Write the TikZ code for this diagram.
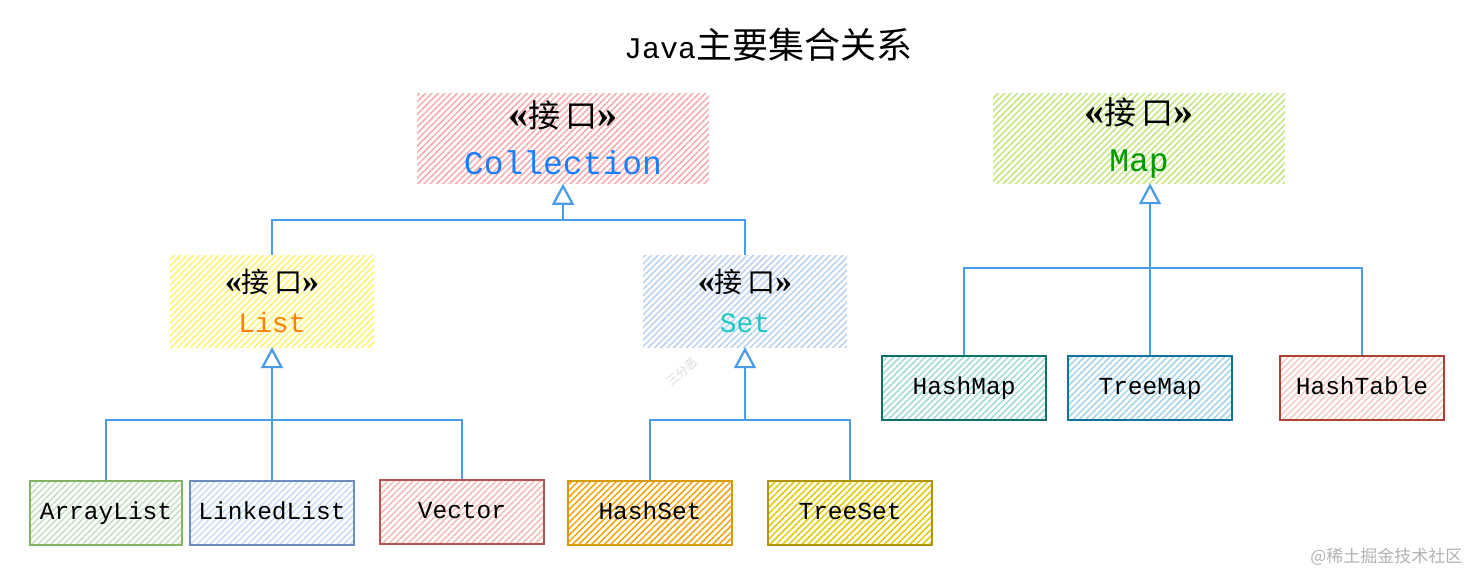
\documentclass[tikz,border=0pt]{standalone}
\usepackage{fontspec}
\setmainfont{Liberation Serif}
\setmonofont{Liberation Mono}
\newfontfamily\cjk{Noto Sans CJK SC}
\usetikzlibrary{arrows.meta,patterns.meta}
\definecolor{linkblue}{HTML}{4A9BE8}
\definecolor{collblue}{HTML}{1A7FFF}
\definecolor{listorange}{HTML}{FF8000}
\definecolor{setteal}{HTML}{1CC7C7}
\definecolor{mapgreen}{HTML}{009900}
\definecolor{pinkfill}{HTML}{F6A9AB}
\definecolor{yellowfill}{HTML}{FFF36E}
\definecolor{bluefill}{HTML}{B9D1F0}
\definecolor{greenfill}{HTML}{C3E47E}
\definecolor{alborder}{HTML}{82B366}
\definecolor{alfill}{HTML}{C5DFC3}
\definecolor{llborder}{HTML}{6C8EBF}
\definecolor{llfill}{HTML}{C9DCF6}
\definecolor{vecborder}{HTML}{B85450}
\definecolor{vecfill}{HTML}{F4B9B6}
\definecolor{hsborder}{HTML}{D79B00}
\definecolor{hsfill}{HTML}{F0A30A}
\definecolor{tsborder}{HTML}{B09500}
\definecolor{tsfill}{HTML}{E3C800}
\definecolor{hmborder}{HTML}{12706A}
\definecolor{hmfill}{HTML}{9FD9D5}
\definecolor{tmborder}{HTML}{10739E}
\definecolor{tmfill}{HTML}{A3D3EA}
\definecolor{htborder}{HTML}{AE4132}
\definecolor{htfill}{HTML}{F7C9C3}
\newcommand{\tag}[2]{{\bfseries\fontsize{#2}{#2}\selectfont«}{\cjk\fontsize{#1}{#1}\selectfont 接\hspace{0.15em}口}{\bfseries\fontsize{#2}{#2}\selectfont»}}

\begin{document}
\begin{tikzpicture}[x=1pt,y=-1pt,
  hatch/.style={pattern={Lines[angle=45,distance=4.5pt,line width=1.5pt]}, pattern color=#1},
  iface/.style={minimum width=292pt, minimum height=90pt, inner sep=0pt, align=center, font=\fontsize{30}{47}\selectfont},
  subiface/.style={minimum width=204pt, minimum height=92pt, inner sep=0pt, align=center, font=\fontsize{26}{40}\selectfont},
  impl/.style={minimum width=164pt, minimum height=64pt, inner sep=0pt, line width=1.6pt, text height=17pt, text depth=5pt, font=\ttfamily\fontsize{24.5}{28}\selectfont},
  link/.style={draw=linkblue, line width=1.6pt},
  inh/.style={link, -{Triangle[open,length=21pt,width=22pt,line width=2.2pt]}},
]
\useasboundingbox (0,0) rectangle (1472,576);
\node (title) at (768,45) {{\ttfamily\fontsize{30}{30}\selectfont Java}{\cjk\fontsize{36}{36}\selectfont 主要集合关系}};
\node[iface, hatch=pinkfill] (coll) at (563,138) {\tag{32}{40}\\{\ttfamily\fontsize{33}{33}\selectfont\color{collblue}Collection}};
\node[iface, hatch=greenfill] (map) at (1139,138) {\tag{32}{40}\\{\ttfamily\fontsize{33}{33}\selectfont\color{mapgreen}Map}};
\node[subiface, hatch=yellowfill] (list) at (272,301) {\tag{28}{34}\\{\ttfamily\fontsize{28}{28}\selectfont\color{listorange}List}};
\node[subiface, hatch=bluefill] (set) at (745,301) {\tag{28}{34}\\{\ttfamily\fontsize{28}{28}\selectfont\color{setteal}Set}};
\coordinate (cj) at (563,220);
\draw[link] (list.north) |- (cj) -| (set.north);
\draw[inh] (cj) -- (coll.south);
\node[impl, minimum width=152pt, draw=alborder, hatch=alfill] (arraylist) at (106,513) {ArrayList};
\node[impl, draw=llborder, hatch=llfill] (linkedlist) at (272,513) {LinkedList};
\node[impl, draw=vecborder, hatch=vecfill] (vector) at (462,512) {Vector};
\coordinate (lj) at (272,420);
\draw[link] (arraylist.north) |- (lj) -| (vector.north);
\draw[link] (linkedlist.north) -- (lj);
\draw[inh] (lj) -- (list.south);
\node[impl, draw=hsborder, hatch=hsfill] (hashset) at (650,513) {HashSet};
\node[impl, draw=tsborder, hatch=tsfill] (treeset) at (850,513) {TreeSet};
\coordinate (sj) at (745,420);
\draw[link] (hashset.north) |- (sj) -| (treeset.north);
\draw[inh] (sj) -- (set.south);
\node[impl, draw=hmborder, hatch=hmfill] (hashmap) at (964,388) {HashMap};
\node[impl, draw=tmborder, hatch=tmfill] (treemap) at (1150,388) {TreeMap};
\node[impl, draw=htborder, hatch=htfill] (hashtable) at (1362,388) {HashTable};
\coordinate (mj) at (1150,268);
\draw[link] (hashmap.north) |- (mj) -| (hashtable.north);
\draw[link] (treemap.north) -- (mj);
\draw[inh] (mj) -- (mj |- map.south);
\node[text=gray!30, rotate=40, font=\cjk\fontsize{12}{12}\selectfont] (mark) at (682,372) {三分恶};
\node[anchor=east, text=gray!60, font=\cjk\fontsize{17}{17}\selectfont] (credit) at (1466,557) {@稀土掘金技术社区};
\end{tikzpicture}
\end{document}
